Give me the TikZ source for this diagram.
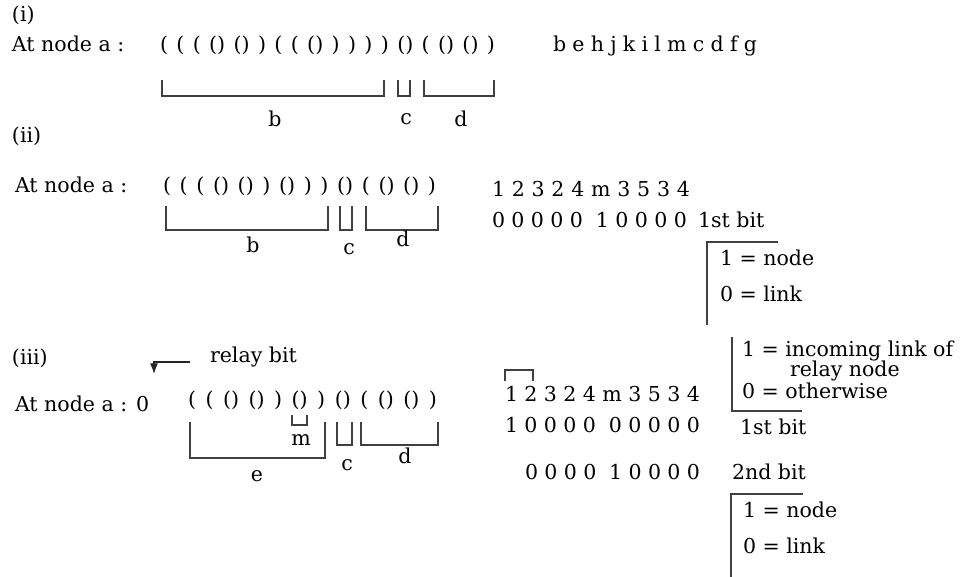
\documentclass[tikz,border=0pt]{standalone}
\usepackage{fontspec}
\setmainfont{DejaVu Serif}
\usetikzlibrary{arrows.meta}
\newdimen\pxu \pxu=0.75pt
\newcommand{\seqbox}[2]{\makebox[#1\pxu][s]{#2}}
\begin{document}
\begin{tikzpicture}[x=0.75pt,y=-0.75pt,
  every node/.style={inner sep=0pt,outer sep=0pt,font=\fontsize{15.4}{18}\selectfont},
  txt/.style={anchor=base west},
  lbl/.style={anchor=base},
  brk/.style={draw=black!75,line width=0.8pt}]
\useasboundingbox (0,0) rectangle (964,577);

% ---------- (i) ----------
\node[txt] (ti) at (12,22) {(i)};
\node[txt] (ai) at (12,52) {At node a :};
\node[txt] (pi) at (160,52) {\seqbox{335}{( ( ( () () ) ( ( () ) ) ) ) () ( () () )}};
\node[txt] (si) at (553,52) {\seqbox{204}{b e h j k i l m c d f g}};
\draw[brk] (162,80) -- (162,96) -- (384,96) -- (384,80);
\draw[brk] (398,80) -- (398,96) -- (410,96) -- (410,80);
\draw[brk] (424,80) -- (424,96) -- (494,96) -- (494,80);
\node[lbl] (bi) at (275,127) {b};
\node[lbl] (ci) at (406,125) {c};
\node[lbl] (di) at (461,127) {d};

% ---------- (ii) ----------
\node[txt] (tii) at (12,143) {(ii)};
\node[txt] (aii) at (15,193) {At node a :};
\node[txt] (pii) at (163,193) {\seqbox{273}{( ( ( () () ) () ) ) () ( () () )}};
\draw[brk] (166,206) -- (166,230) -- (328,230) -- (328,206);
\draw[brk] (340,206) -- (340,230) -- (352,230) -- (352,206);
\draw[brk] (366,206) -- (366,230) -- (438,230) -- (438,206);
\node[lbl] (bii) at (253,253) {b};
\node[lbl] (cii) at (349,255) {c};
\node[lbl] (dii) at (403,247) {d};
\node[txt] (nii) at (492,197) {\seqbox{198}{1 2 3 2 4 m 3 5 3 4}};
\node[txt] (zii) at (492,228) {\seqbox{195}{0 0 0 0 0\ \ 1 0 0 0 0}};
\node[txt] (fii) at (698,228) {1st bit};
\draw[brk] (778,242) -- (707,242) -- (707,325);
\node[txt] (nodeii) at (720,266) {1 = node};
\node[txt] (linkii) at (720,301) {0 = link};

% ---------- (iii) ----------
\node[txt] (tiii) at (12,364) {(iii)};
\node[txt] (relay) at (210,363) {relay bit};
\coordinate (rs) at (190,362);
\coordinate (rc) at (154,362);
\coordinate (re) at (154,374);
\draw[draw=black!85,line width=0.8pt,-{Latex[length=8pt,width=6pt]}] (rs) -- (rc) -- (re);
\node[txt] (aiii) at (15,411) {At node a : 0};
\node[txt] (piii) at (188,406) {\seqbox{249}{( ( () () ) () ) () ( () () )}};
\draw[brk] (292,415) -- (292,425) -- (307,425) -- (307,415);
\node[lbl] (miii) at (301,445) {m};
\draw[brk] (190,422) -- (190,458) -- (325,458) -- (325,422);
\draw[brk] (337,422) -- (337,445) -- (352,445) -- (352,422);
\draw[brk] (361,422) -- (361,445) -- (438,445) -- (438,422);
\node[lbl] (eiii) at (257,481) {e};
\node[lbl] (ciii) at (347,470) {c};
\node[lbl] (diii) at (405,463) {d};
\draw[brk] (505,381) -- (505,370) -- (533,370) -- (533,381);
\node[txt] (niii) at (505,402) {\seqbox{195}{1 2 3 2 4 m 3 5 3 4}};
\node[txt] (ziii) at (505,432) {\seqbox{195}{1 0 0 0 0\ \ 0 0 0 0 0}};
\node[txt] (fiii) at (740,434) {1st bit};
\draw[brk] (732,337) -- (732,411) -- (802,411);
\node[txt] (inc) at (742,356) {1 = incoming link of};
\node[txt] (rel) at (790,377) {relay node};
\node[txt] (oth) at (742,398) {0 = otherwise};
\node[txt] (wiii) at (525,479) {\seqbox{175}{0 0 0 0\ \ 1 0 0 0 0}};
\node[txt] (siii) at (732,479) {2nd bit};
\draw[brk] (803,494) -- (731,494) -- (731,577);
\node[txt] (nodeiii) at (743,517) {1 = node};
\node[txt] (linkiii) at (743,553) {0 = link};
\end{tikzpicture}
\end{document}
